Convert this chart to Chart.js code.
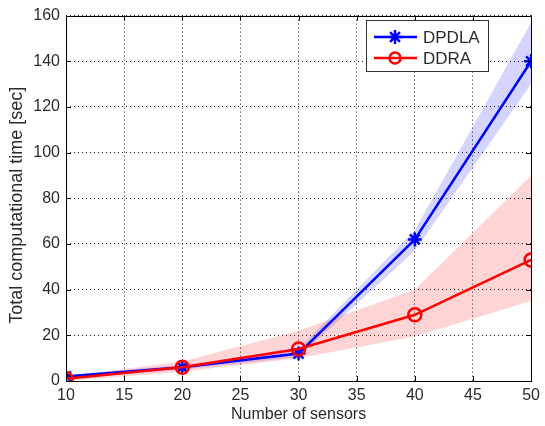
<!DOCTYPE html>
<html>
<head>
<meta charset="utf-8">
<script src="https://cdn.jsdelivr.net/npm/chart.js@4.4.0/dist/chart.umd.min.js"></script>
<style>
  html, body { margin: 0; padding: 0; background: #fff; }
  #wrap { width: 545px; height: 426px; position: relative; }
</style>
</head>
<body>
<div id="wrap"><canvas id="chart"></canvas></div>
<script>
const sensors = [10, 20, 30, 40, 50];

const dpdla = [2, 6, 12, 62, 140];
const dpdlaUpper = [2.6, 7, 14, 66, 157];
const dpdlaLower = [1.4, 5, 10.5, 57, 130];

const ddra = [1, 6, 14, 29, 53];
const ddraUpper = [2, 8.5, 22, 40, 90];
const ddraLower = [0, 4, 10, 19.5, 35];

const xTicks = [10, 15, 20, 25, 30, 35, 40, 45, 50];
const yTicks = [0, 20, 40, 60, 80, 100, 120, 140, 160];

const yTitle = "Total computational time [sec]";

const FONT = "'Liberation Sans', Arial, sans-serif";
const TEXT = "#2b2b2b";
const pts = (ys) => sensors.map((x, i) => ({ x, y: ys[i] }));

// axes box, inward ticks, y label and the legend, drawn the matlab way
const matlabFrame = {
  id: "matlabFrame",
  afterDatasetsDraw(chart) {
    const { ctx, chartArea: a, scales } = chart;
    ctx.save();
    ctx.strokeStyle = "#000";
    ctx.lineWidth = 1;
    ctx.strokeRect(Math.round(a.left) + 0.5, Math.round(a.top) + 0.5,
      Math.round(a.right - a.left), Math.round(a.bottom - a.top));
    ctx.beginPath();
    xTicks.forEach((v) => {
      const px = Math.round(scales.x.getPixelForValue(v)) + 0.5;
      ctx.moveTo(px, a.bottom); ctx.lineTo(px, a.bottom - 5);
      ctx.moveTo(px, a.top); ctx.lineTo(px, a.top + 5);
    });
    yTicks.forEach((v) => {
      const py = Math.round(scales.y.getPixelForValue(v)) + 0.5;
      ctx.moveTo(a.left, py); ctx.lineTo(a.left + 5, py);
      ctx.moveTo(a.right, py); ctx.lineTo(a.right - 5, py);
    });
    ctx.stroke();

    // rotated y label, sitting a little below the axis middle
    ctx.save();
    ctx.translate(17, (a.top + a.bottom) / 2 + 7);
    ctx.rotate(-Math.PI / 2);
    ctx.fillStyle = TEXT;
    ctx.font = "18px " + FONT;
    ctx.textAlign = "center";
    ctx.textBaseline = "middle";
    ctx.fillText(yTitle, 0, 0);
    ctx.restore();

    // legend
    const lx = 366, ly = 20, lw = 122, lh = 51;
    ctx.fillStyle = "#fff";
    ctx.fillRect(lx, ly, lw, lh);
    ctx.strokeStyle = "#333";
    ctx.strokeRect(lx + 0.5, ly + 0.5, lw, lh);
    const items = [
      { label: "DPDLA", color: "#0000ff", style: "star", r: 7, y: ly + 17 },
      { label: "DDRA", color: "#ff0000", style: "circle", r: 5.5, y: ly + 38 }
    ];
    items.forEach((it) => {
      ctx.strokeStyle = it.color;
      ctx.lineWidth = 2.5;
      ctx.beginPath();
      ctx.moveTo(lx + 8, it.y); ctx.lineTo(lx + 51, it.y);
      ctx.stroke();
      ctx.fillStyle = "rgba(0,0,0,0)";
      Chart.helpers.drawPoint(ctx, { pointStyle: it.style, radius: it.r, borderWidth: 2.5, rotation: 0 }, lx + 29, it.y);
      ctx.fillStyle = TEXT;
      ctx.font = "17px " + FONT;
      ctx.textAlign = "left";
      ctx.textBaseline = "middle";
      ctx.fillText(it.label, lx + 57, it.y + 1);
    });
    ctx.restore();
  }
};

const bandStyle = { pointRadius: 0, borderWidth: 0, tension: 0 };

new Chart(document.getElementById("chart"), {
  type: "line",
  data: {
    datasets: [
      { ...bandStyle, data: pts(dpdlaUpper), fill: false, order: 3 },
      { ...bandStyle, data: pts(dpdlaLower), fill: "-1", backgroundColor: "rgba(0,0,255,0.17)", order: 3 },
      { ...bandStyle, data: pts(ddraUpper), fill: false, order: 2 },
      { ...bandStyle, data: pts(ddraLower), fill: "-1", backgroundColor: "rgba(255,0,0,0.17)", order: 2 },
      {
        label: "DPDLA", data: pts(dpdla), borderColor: "#0000ff", borderWidth: 2.5,
        pointStyle: "star", pointRadius: 7, pointBorderWidth: 2.5, pointBorderColor: "#0000ff",
        fill: false, tension: 0, order: 1
      },
      {
        label: "DDRA", data: pts(ddra), borderColor: "#ff0000", borderWidth: 2.5,
        pointStyle: "circle", pointRadius: 6.5, pointBorderWidth: 2.5, pointBorderColor: "#ff0000",
        pointBackgroundColor: "rgba(0,0,0,0)", fill: false, tension: 0, order: 0
      }
    ]
  },
  options: {
    responsive: true,
    maintainAspectRatio: false,
    animation: false,
    layout: { padding: { top: 14, right: 11, left: 0, bottom: 2 } },
    plugins: { legend: { display: false }, tooltip: { enabled: false } },
    scales: {
      x: {
        type: "linear", min: 10, max: 50,
        afterBuildTicks: (s) => { s.ticks = xTicks.map((v) => ({ value: v })); },
        afterFit: (s) => { s.height = 43; },
        grid: { color: "#222", lineWidth: 1, drawTicks: false },
        border: { display: false, dash: [1, 3] },
        ticks: { color: TEXT, font: { family: FONT, size: 16 }, padding: 5, maxRotation: 0 },
        title: { display: true, text: "Number of sensors", color: TEXT, font: { family: FONT, size: 16 }, padding: { top: 0, bottom: 0 } }
      },
      y: {
        min: 0, max: 160,
        afterBuildTicks: (s) => { s.ticks = yTicks.map((v) => ({ value: v })); },
        afterFit: (s) => { s.width = 66; },
        grid: { color: "#222", lineWidth: 1, drawTicks: false },
        border: { display: false, dash: [1, 3] },
        ticks: { color: TEXT, font: { family: FONT, size: 16 }, padding: 6 },
        title: { display: false }
      }
    }
  },
  plugins: [matlabFrame]
});
</script>
</body>
</html>
